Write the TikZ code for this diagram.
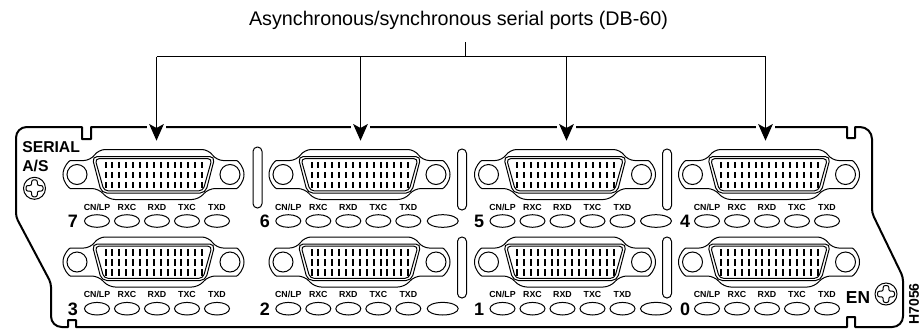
\documentclass[tikz,border=0pt]{standalone}
\usepackage{fontspec}
\setmainfont{Liberation Sans}
\usetikzlibrary{arrows.meta}

\tikzset{
    panelline/.style={line width=1.5pt, line join=round},
    portline/.style={line width=.75pt},
    leadline/.style={line width=.85pt},
    leadarrow/.style={leadline, -{Stealth[length=12.5pt, width=11pt, inset=3pt]}},
    ledlabel/.style={inner sep=0pt, font=\fontsize{6.6}{7}\selectfont\bfseries},
    portnum/.style={inner sep=0pt, font=\fontsize{13.5}{14}\selectfont\bfseries},
    panellabel/.style={inner sep=0pt, font=\fontsize{11.8}{12}\selectfont\bfseries},
    dbport/.pic={
        \draw[portline, rounded corners=5pt] (-55,-25) -- (55,-25) -- (63,-14) -- (76.5,-14)
            arc[start angle=270, end angle=450, radius=14] -- (55,14) -- (45,25) -- (-45,25)
            -- (-55,14) -- (-76.5,14) arc[start angle=90, end angle=270, radius=14] -- (-63,-14) -- cycle;
        \draw[portline] (-76.5,0) circle[radius=10];
        \draw[portline] (76.5,0) circle[radius=10];
        \draw[portline, rounded corners=4pt] (-61.5,-18) -- (61.5,-18) -- (52,18.5) -- (-52,18.5) -- cycle;
        \draw[portline, rounded corners=3pt] (-58.5,-15.8) -- (58.5,-15.8) -- (49.5,16.3) -- (-49.5,16.3) -- cycle;
        \foreach \i in {0,...,14}
            \foreach \r in {-9.7,.3,10.3}
                \fill ({-48+6.9*\i-1},\r-3.2) rectangle ({-48+6.9*\i+1},\r+3.2);
    },
    screw/.pic={
        \draw[portline] (0,0) circle[radius=11];
        \draw[portline, rounded corners=1.5pt] (-2.8,-2.8) -- (-2.8,-8.5) -- (2.8,-8.5) -- (2.8,-2.8)
            -- (8.5,-2.8) -- (8.5,2.8) -- (2.8,2.8) -- (2.8,8.5) -- (-2.8,8.5) -- (-2.8,2.8)
            -- (-8.5,2.8) -- (-8.5,-2.8) -- cycle;
    },
}

\newcommand{\ledoval}[3]{\draw[portline] (#1,#2) ellipse[x radius=#3, y radius=6.3];}
\newcommand{\slotbar}[2]{\draw[portline, rounded corners=3.3pt] (#1-4.5,#2) rectangle (#1+4.5,#2+61);}

\begin{document}
\begin{tikzpicture}[x=.75pt, y=-.75pt]
    \useasboundingbox (0,0) rectangle (920,329);

    % faceplate
    \draw[panelline] (16,217) [rounded corners=8pt] -- (16,127) [sharp corners] -- (82,127) -- (82,139) -- (91,139) -- (91,127)
        -- (847,127) -- (847,138) -- (855,138) -- (855,127) [rounded corners=9pt] -- (872,127) [rounded corners=3pt] -- (872,213) -- (903,277)
        [rounded corners=8pt] -- (903,327) [sharp corners] -- (855,327) -- (855,317) -- (847,317) -- (847,327) -- (76,327) -- (76,320)
        -- (68,320) -- (68,327) [rounded corners=8pt] -- (51,327) [rounded corners=3pt] -- (51,283) -- cycle;

    % ports, leds and numbers
    \foreach \px/\lx/\nx/\na/\nb in {153.5/97/73/7/3, 359.5/288.3/265/6/2, 565/502.5/479/5/1, 769/707/685/4/0} {
        \pic at (\px,174.5) {dbport};
        \pic at (\px,262) {dbport};
        \node[portnum] (num\na) at (\nx,221) {\na};
        \node[portnum] (num\nb) at (\nx,309) {\nb};
        \foreach \i/\t in {0/CN\slash LP,1/RXC,2/RXD,3/TXC,4/TXD} {
            \ledoval{\lx+30*\i}{221}{12.5}
            \ledoval{\lx+30*\i}{308.7}{12.5}
            \node[ledlabel] (top\na\i) at (\lx+30*\i,207.7) {\t};
            \node[ledlabel] (bot\nb\i) at (\lx+30*\i,294.7) {\t};
        }
    }
    \foreach \lx in {442.7,656} {
        \ledoval{\lx}{221}{15.5}
        \ledoval{\lx}{308.7}{15.5}
    }

    % slots between the ports
    \slotbar{257.5}{147}
    \slotbar{462}{149}
    \slotbar{462}{237}
    \slotbar{667}{149}
    \slotbar{667}{237}

    \pic at (34.5,188.3) {screw};
    \pic at (886,294) {screw};

    \node[panellabel, anchor=west] (serial) at (22,147.5) {SERIAL};
    \node[panellabel, anchor=west] (as) at (22,166) {A/S};
    \node[inner sep=0pt, font=\fontsize{13}{14}\selectfont\bfseries] (en) at (858,298) {EN};
    \node[inner sep=0pt, rotate=90, font=\fontsize{10.5}{11}\selectfont\bfseries] (code) at (914,304) {H7056};

    % callout
    \node[inner sep=0pt, font=\fontsize{14.8}{16}\selectfont] (title) at (458.5,20) {Asynchronous/synchronous serial ports (DB-60)};
    \coordinate (stem) at (465.5,42);
    \coordinate (bus) at (465.5,56.5);
    \draw[leadline] (stem) -- (bus);
    \foreach \ax/\name in {156.5/seven,360.5/six,566.5/five,765.5/four} {
        \coordinate (\name) at (\ax,140.7);
        \coordinate (\name top) at (\ax,56.5);
        \fill[white] (\ax-9.5,124) rectangle (\ax+9.5,130);
        \draw[leadarrow] (\name top) -- (\name);
    }
    \draw[leadline] (seventop) -- (fourtop);
\end{tikzpicture}
\end{document}
